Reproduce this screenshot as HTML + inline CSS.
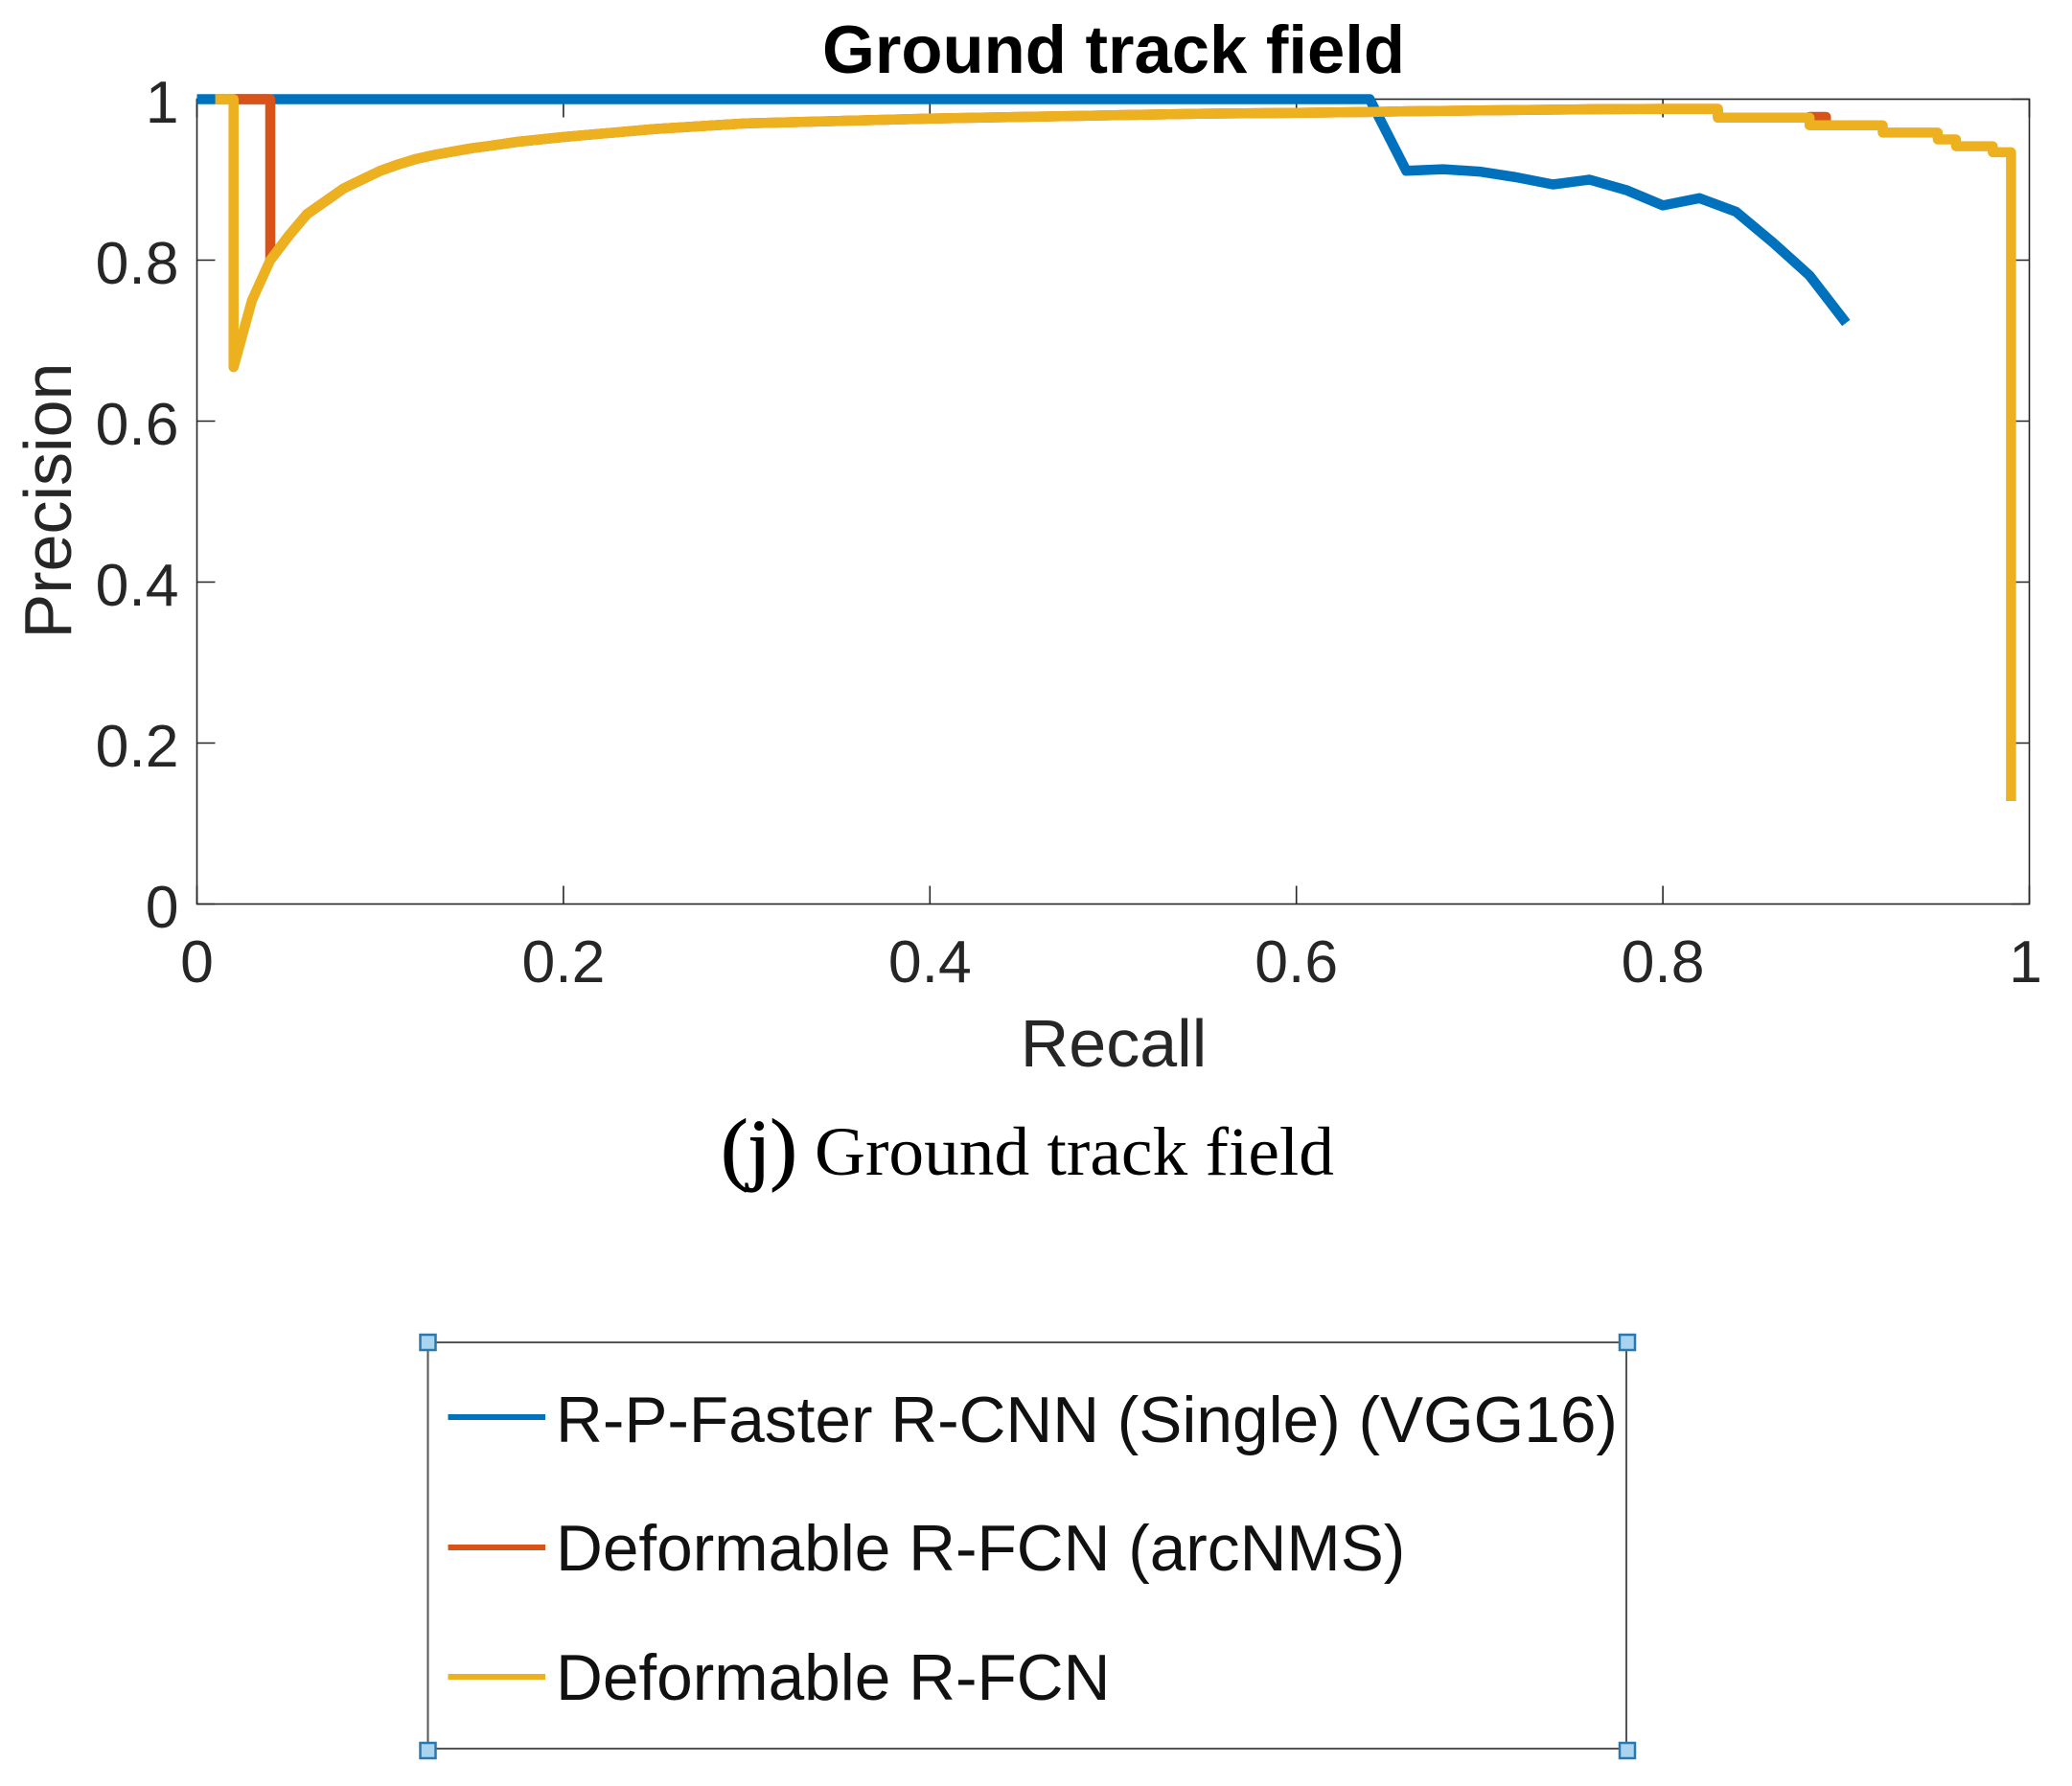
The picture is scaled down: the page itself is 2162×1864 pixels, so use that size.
<!DOCTYPE html>
<html lang="en">
<head>
<meta charset="utf-8">
<title>Ground track field</title>
<style>
html,body{margin:0;padding:0;background:#fff;width:2162px;height:1864px;overflow:hidden}
svg{display:block}
text{font-family:"Liberation Sans",Arial,sans-serif}
</style>
</head>
<body>
<svg id="chart" xmlns="http://www.w3.org/2000/svg" width="2162" height="1864" viewBox="0 0 2162 1864">
  <rect x="0" y="0" width="2162" height="1864" fill="#fff"/>
  <rect x="205.5" y="103.5" width="1912" height="840" fill="none" stroke="#262626" stroke-width="1.6"/>
  <g id="ticks"></g>
  <g id="series"></g>
  <text x="1162" y="76" font-size="70.6" font-weight="700" text-anchor="middle" fill="#000">Ground track field</text>
  <text x="1162" y="1113" font-size="70" text-anchor="middle" fill="#262626">Recall</text>
  <text transform="translate(74 522.5) rotate(-90)" font-size="70" text-anchor="middle" fill="#262626">Precision</text>
  <text x="792" y="1226" font-size="84" text-anchor="middle" fill="#000" stroke="#000" stroke-width="1.2" style="font-family:'Liberation Serif',serif">(j)</text>
  <text x="850" y="1226" font-size="72" textLength="542" lengthAdjust="spacingAndGlyphs" fill="#000" style="font-family:'Liberation Serif',serif">Ground track field</text>

  <g>
    <rect x="446.5" y="1401" width="1250.5" height="424" fill="#fff" stroke="#555" stroke-width="2"/>
    <line x1="467.5" x2="569" y1="1479" y2="1479" stroke="#0072BD" stroke-width="6"/>
    <text x="580" y="1505" font-size="67.6" fill="#111">R-P-Faster R-CNN (Single) (VGG16)</text>
    <line x1="467.5" x2="569" y1="1615" y2="1615" stroke="#D95319" stroke-width="6"/>
    <text x="580" y="1639" font-size="67.6" fill="#111">Deformable R-FCN (arcNMS)</text>
    <line x1="467.5" x2="569" y1="1750" y2="1750" stroke="#EDB120" stroke-width="6"/>
    <text x="580" y="1774" font-size="67.6" fill="#111">Deformable R-FCN</text>
    <rect x="438.5" y="1393" width="16" height="16" fill="#a8d4f0" stroke="#2a78b0" stroke-width="2.5"/>
    <rect x="1690" y="1393" width="16" height="16" fill="#a8d4f0" stroke="#2a78b0" stroke-width="2.5"/>
    <rect x="438.5" y="1819" width="16" height="16" fill="#a8d4f0" stroke="#2a78b0" stroke-width="2.5"/>
    <rect x="1690" y="1819" width="16" height="16" fill="#a8d4f0" stroke="#2a78b0" stroke-width="2.5"/>
  </g>
</svg>
<script>
var xTicks = [0, 0.2, 0.4, 0.6, 0.8, 1];
var yTicks = [0, 0.2, 0.4, 0.6, 0.8, 1];
var tickLabels = ['0', '0.2', '0.4', '0.6', '0.8', '1'];

var blueRecall = [0, 0.64, 0.66, 0.68, 0.70, 0.72, 0.74, 0.76, 0.78, 0.80, 0.82, 0.84, 0.86, 0.88, 0.90];
var bluePrecision = [1, 1, 0.911, 0.913, 0.91, 0.903, 0.894, 0.90, 0.887, 0.868, 0.877, 0.86, 0.822, 0.781, 0.722];

var orangeRecall = [0.02, 0.04, 0.04, 0.05, 0.06, 0.07, 0.08, 0.09, 0.10, 0.11, 0.12, 0.13, 0.14, 0.15, 0.16, 0.175, 0.20, 0.25, 0.30, 0.35, 0.40, 0.45, 0.50, 0.55, 0.60, 0.64, 0.66, 0.70, 0.76, 0.80, 0.83, 0.83, 0.88, 0.88, 0.889, 0.889];
var orangePrecision = [1, 1, 0.80, 0.83, 0.857, 0.873, 0.889, 0.90, 0.911, 0.919, 0.926, 0.931, 0.935, 0.939, 0.942, 0.947, 0.953, 0.963, 0.97, 0.973, 0.976, 0.978, 0.98, 0.982, 0.983, 0.984, 0.985, 0.986, 0.9875, 0.988, 0.988, 0.977, 0.977, 0.978, 0.978, 0.9675];

var yellowRecall = [0.01, 0.02, 0.02, 0.03, 0.04, 0.05, 0.06, 0.07, 0.08, 0.09, 0.10, 0.11, 0.12, 0.13, 0.14, 0.15, 0.16, 0.175, 0.20, 0.25, 0.30, 0.35, 0.40, 0.45, 0.50, 0.55, 0.60, 0.64, 0.66, 0.70, 0.76, 0.80, 0.83, 0.83, 0.88, 0.88, 0.92, 0.92, 0.95, 0.95, 0.96, 0.96, 0.98, 0.98, 0.99, 0.99];
var yellowPrecision = [1, 1, 0.667, 0.75, 0.80, 0.83, 0.857, 0.873, 0.889, 0.90, 0.911, 0.919, 0.926, 0.931, 0.935, 0.939, 0.942, 0.947, 0.953, 0.963, 0.97, 0.973, 0.976, 0.978, 0.98, 0.982, 0.983, 0.984, 0.985, 0.986, 0.9875, 0.988, 0.988, 0.977, 0.977, 0.9675, 0.9675, 0.9585, 0.9585, 0.95, 0.95, 0.9415, 0.9415, 0.934, 0.934, 0.128];

var NS = 'http://www.w3.org/2000/svg';
function sx(v) { return 205.5 + v * 1912; }
function sy(v) { return 943.5 - v * 840; }

function makeLine(parent, x1, y1, x2, y2) {
  var l = document.createElementNS(NS, 'line');
  l.setAttribute('x1', x1);
  l.setAttribute('y1', y1);
  l.setAttribute('x2', x2);
  l.setAttribute('y2', y2);
  l.setAttribute('stroke', '#262626');
  l.setAttribute('stroke-width', '1.6');
  parent.appendChild(l);
  return l;
}

function makeLabel(parent, x, y, anchor, str) {
  var t = document.createElementNS(NS, 'text');
  t.setAttribute('x', x);
  t.setAttribute('y', y);
  t.setAttribute('text-anchor', anchor);
  t.setAttribute('font-size', '62.5');
  t.setAttribute('fill', '#262626');
  t.textContent = str;
  parent.appendChild(t);
  return t;
}

var tickGroup = document.getElementById('ticks');
xTicks.forEach(function (v, i) {
  var a = makeLine(tickGroup, sx(v), 943.5, sx(v), 924.5);
  
  
  var b = makeLine(tickGroup, sx(v), 103.5, sx(v), 122.5);
  
  
  var nudge = tickLabels[i] === '1' ? -4 : 0;
  var t = makeLabel(tickGroup, sx(v) + nudge, 1025, 'middle', tickLabels[i]);
  
  
});
yTicks.forEach(function (v, i) {
  var a = makeLine(tickGroup, 205.5, sy(v), 224.5, sy(v));
  
  
  var b = makeLine(tickGroup, 2117.5, sy(v), 2098.5, sy(v));
  
  
  var t = makeLabel(tickGroup, 186.5, sy(v) + 24.5, 'end', tickLabels[i]);
  
  
});

function makeSeries(xs, ys, color) {
  var p = document.createElementNS(NS, 'polyline');
  var pts = xs.map(function (x, i) { return sx(x).toFixed(1) + ',' + sy(ys[i]).toFixed(1); });
  p.setAttribute('points', pts.join(' '));
  p.setAttribute('fill', 'none');
  p.setAttribute('stroke', color);
  p.setAttribute('stroke-width', '10.5');
  p.setAttribute('stroke-linejoin', 'round');
  p.setAttribute('stroke-linecap', 'butt');
  document.getElementById('series').appendChild(p);
  return p;
}

var blueLine = makeSeries(blueRecall, bluePrecision, '#0072BD');


var orangeLine = makeSeries(orangeRecall, orangePrecision, '#D95319');


var yellowLine = makeSeries(yellowRecall, yellowPrecision, '#EDB120');


</script>
</body>
</html>
